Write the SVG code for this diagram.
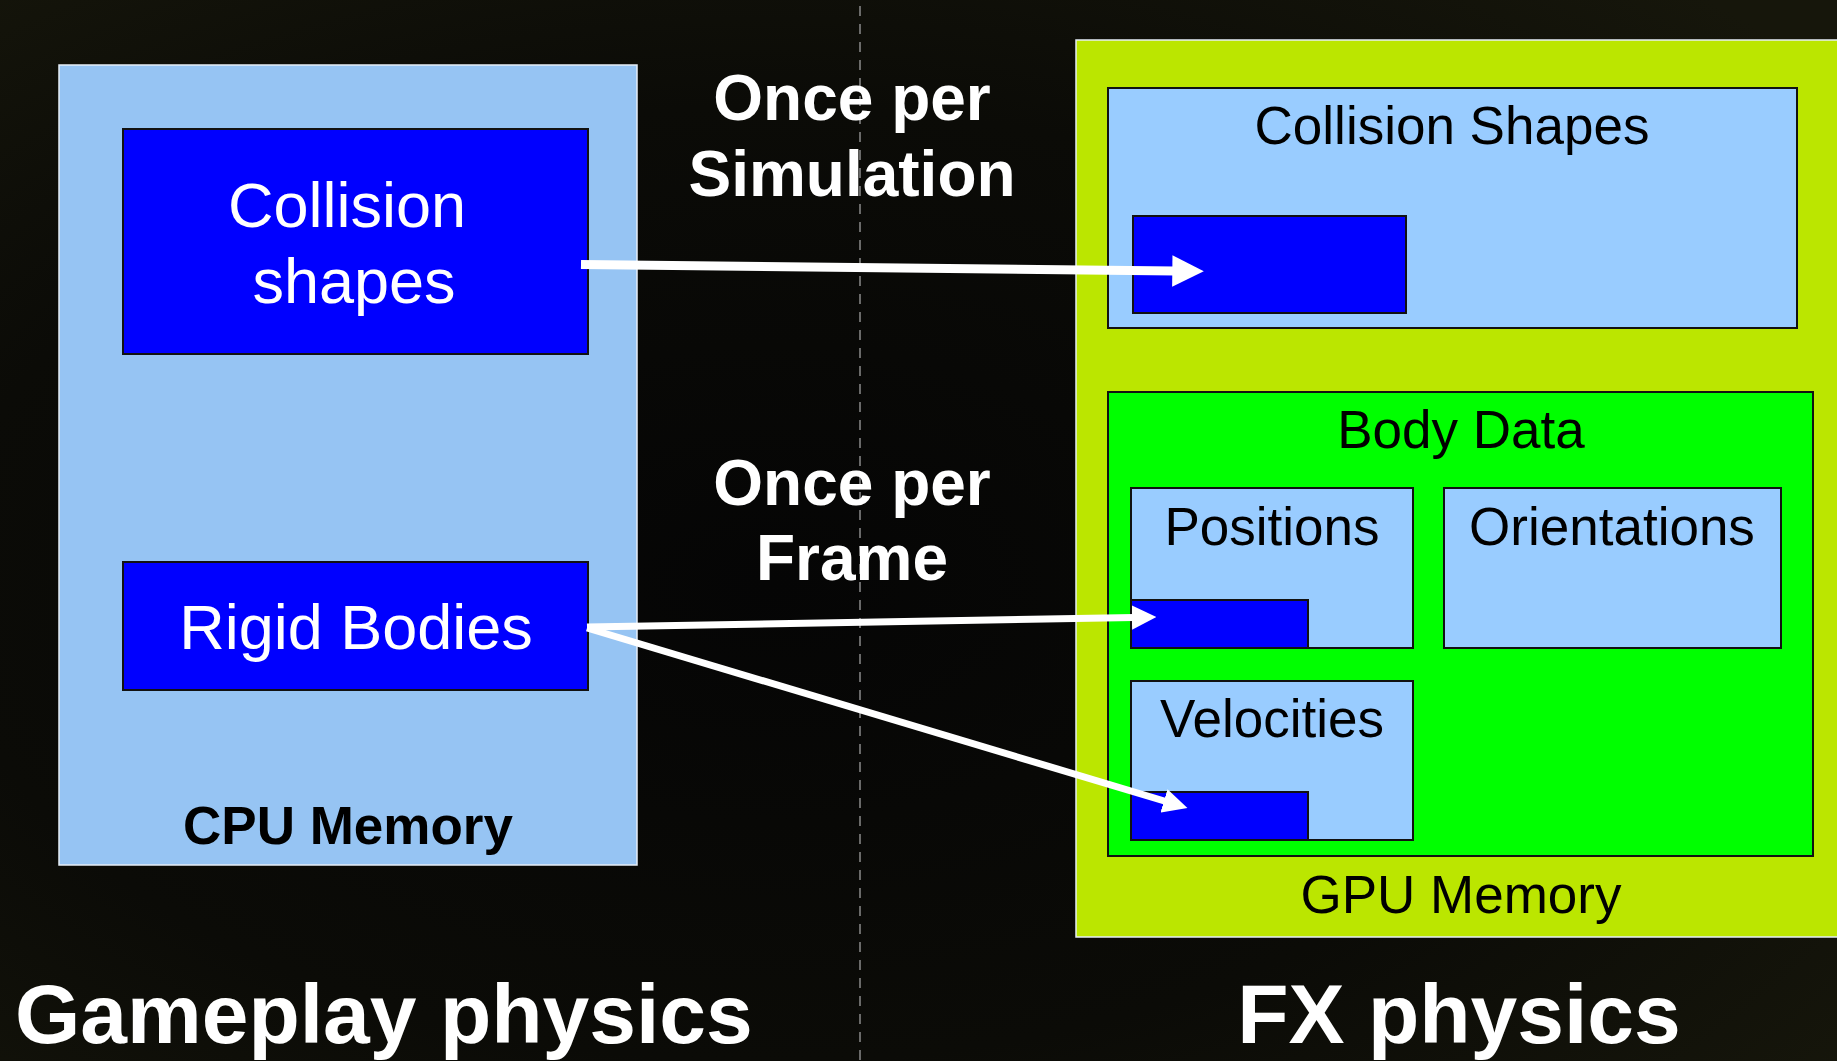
<svg xmlns="http://www.w3.org/2000/svg" width="1837" height="1061" viewBox="0 0 1837 1061">
  <defs>
    <radialGradient id="bg" cx="0.42" cy="0.55" r="0.75">
      <stop offset="0" stop-color="#050505"/>
      <stop offset="0.6" stop-color="#0b0b07"/>
      <stop offset="1" stop-color="#16160b"/>
    </radialGradient>
    <marker id="ah" markerUnits="strokeWidth" markerWidth="3.5" markerHeight="3.5" refX="0.3" refY="1.75" orient="auto">
      <path d="M0,0 L3.5,1.75 L0,3.5 z" fill="#ffffff"/>
    </marker>
  </defs>
  <style>
    .lbl { font-family: "Liberation Sans", Arial, sans-serif; }
    .white { fill: #ffffff; }
    .black { fill: #000000; }
    .bold { font-weight: bold; }
    .light { fill: #99ccff; stroke: #111111; stroke-width: 2; }
    .blue { fill: #0000ff; stroke: #111111; stroke-width: 2; }
    .conn { fill: none; stroke: #ffffff; marker-end: url(#ah); }
  </style>
  <rect x="0" y="0" width="1837" height="1061" fill="url(#bg)"/>
  <line x1="860" y1="6" x2="860" y2="1061" stroke="#8a8a8a" stroke-width="1.5" stroke-dasharray="10 8"/>

  <g id="cpu-memory">
    <rect x="59" y="65" width="578" height="800" fill="#96c4f3" stroke="#e6eef8" stroke-width="1.5"/>
    <text class="lbl bold black" x="348" y="844" font-size="53" text-anchor="middle">CPU Memory</text>
  </g>
  <g id="cpu-collision-shapes">
    <rect class="blue" x="123" y="129" width="465" height="225"/>
    <text class="lbl white" x="347" y="227" font-size="63" text-anchor="middle">Collision</text>
    <text class="lbl white" x="354" y="303" font-size="63" text-anchor="middle">shapes</text>
  </g>
  <g id="rigid-bodies">
    <rect class="blue" x="123" y="562" width="465" height="128"/>
    <text class="lbl white" x="356" y="649" font-size="63" text-anchor="middle">Rigid Bodies</text>
  </g>

  <g id="gpu-memory">
    <rect x="1076" y="40" width="770" height="897" fill="#bbe600" stroke="#e6eef8" stroke-width="1.5"/>
    <text class="lbl black" x="1461" y="913" font-size="53" text-anchor="middle">GPU Memory</text>
  </g>
  <g id="gpu-collision-shapes">
    <rect class="light" x="1108" y="88" width="689" height="240"/>
    <text class="lbl black" x="1452" y="144" font-size="53" text-anchor="middle">Collision Shapes</text>
    <rect class="blue" x="1133" y="216" width="273" height="97"/>
  </g>
  <g id="body-data">
    <rect x="1108" y="392" width="705" height="464" fill="#00ff00" stroke="#111111" stroke-width="2"/>
    <text class="lbl black" x="1461" y="448" font-size="53" text-anchor="middle">Body Data</text>
  </g>
  <g id="positions">
    <rect class="light" x="1131" y="488" width="282" height="160"/>
    <text class="lbl black" x="1272" y="545" font-size="53" text-anchor="middle">Positions</text>
    <rect class="blue" x="1131" y="600" width="177" height="48"/>
  </g>
  <g id="orientations">
    <rect class="light" x="1444" y="488" width="337" height="160"/>
    <text class="lbl black" x="1612" y="545" font-size="53" text-anchor="middle">Orientations</text>
  </g>
  <g id="velocities">
    <rect class="light" x="1131" y="681" width="282" height="159"/>
    <text class="lbl black" x="1272" y="737" font-size="53" text-anchor="middle">Velocities</text>
    <rect class="blue" x="1131" y="792" width="177" height="48"/>
  </g>

  <g id="labels">
    <text class="lbl bold white" x="852" y="120" font-size="64" text-anchor="middle">Once per</text>
    <text class="lbl bold white" x="852" y="196" font-size="64" text-anchor="middle">Simulation</text>
    <text class="lbl bold white" x="852" y="505" font-size="64" text-anchor="middle">Once per</text>
    <text class="lbl bold white" x="852" y="580" font-size="64" text-anchor="middle">Frame</text>
    <text class="lbl bold white" x="15" y="1043" font-size="84">Gameplay physics</text>
    <text class="lbl bold white" x="1459" y="1043" font-size="84" text-anchor="middle">FX physics</text>
  </g>

  <g id="connectors">
    <path class="conn" d="M581,264.5 L1175,271" stroke-width="9"/>
    <path class="conn" d="M587,627 L1134,617.5" stroke-width="7"/>
    <path class="conn" d="M587,628 L1166,801.5" stroke-width="7"/>
  </g>
</svg>
